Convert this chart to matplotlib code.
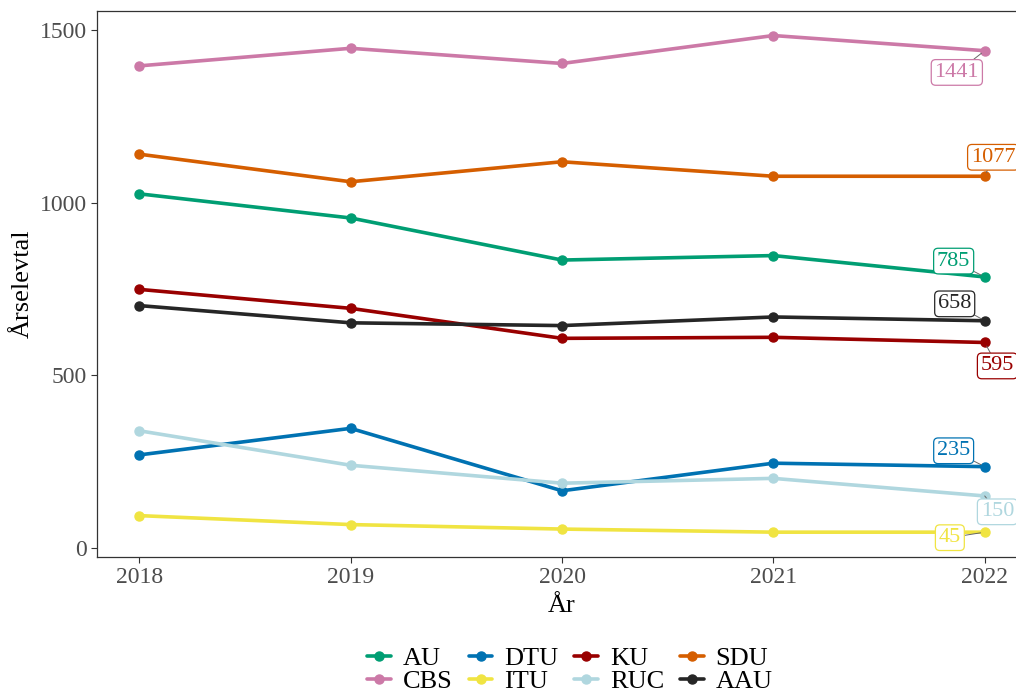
import matplotlib
matplotlib.use("Agg")
import matplotlib.pyplot as plt

years = [2018, 2019, 2020, 2021, 2022]
AU  = [1026, 956, 834, 847, 785]
CBS = [1397, 1448, 1404, 1485, 1441]
DTU = [269, 346, 165, 245, 235]
ITU = [93, 67, 54, 45, 45]
KU  = [749, 694, 607, 610, 595]
RUC = [339, 239, 187, 201, 150]
SDU = [1141, 1061, 1119, 1077, 1077]
AAU = [702, 652, 644, 669, 658]

series = {"AU": AU, "CBS": CBS, "DTU": DTU, "ITU": ITU,
          "KU": KU, "RUC": RUC, "SDU": SDU, "AAU": AAU}
colors = {"AU": "#009E73", "CBS": "#CC79A7", "DTU": "#0072B2", "ITU": "#F0E442",
          "KU": "#990000", "RUC": "#B0D7DF", "SDU": "#D55E00", "AAU": "#262626"}
# label text positions (data coords) for the last-year values
label_pos = {"CBS": (2021.868, 1378), "SDU": (2022.04, 1132), "AU": (2021.853, 831),
             "AAU": (2021.858, 707), "KU": (2022.06, 527), "DTU": (2021.853, 281),
             "RUC": (2022.06, 104), "ITU": (2021.835, 29)}

plt.rcParams['font.family'] = ['Liberation Serif', 'DejaVu Serif']

fig = plt.figure(figsize=(10.16, 6.93), dpi=100)
ax = fig.add_axes([97/1016, 1-557/693, (1027-97)/1016, (557-10.7)/693])

draw_order = ["AU", "CBS", "DTU", "ITU", "KU", "RUC", "SDU", "AAU"]
handles = {}
for name in draw_order:
    vals = series[name]
    h, = ax.plot(years, vals, color=colors[name], lw=2.6, marker='o', ms=6.5,
                 solid_capstyle='round', label=name, clip_on=False)
    handles[name] = h

for name in draw_order:
    v = series[name][-1]
    tx, ty = label_pos[name]
    ax.annotate(str(v), xy=(years[-1], v), xytext=(tx, ty), textcoords='data',
                ha='center', va='center', fontsize=16, color=colors[name],
                bbox=dict(boxstyle='round,pad=0.15,rounding_size=0.2', fc='white',
                          ec=colors[name], lw=0.9),
                arrowprops=dict(arrowstyle='-', color='#666666', lw=0.7,
                                shrinkA=0, shrinkB=3),
                annotation_clip=False, zorder=5)

ax.set_xlim(2017.8, 2022.2)
ax.set_ylim(-27, 1557)
ax.set_xticks(years)
ax.set_yticks([0, 500, 1000, 1500])
ax.tick_params(axis='both', labelsize=17, labelcolor='#4D4D4D', color='#333333',
               length=4, width=0.8)
for s in ax.spines.values():
    s.set_color('#333333')
    s.set_linewidth(0.9)
ax.set_xlabel('År', fontsize=19, color='black', labelpad=5)
ax.set_ylabel('Årselevtal', fontsize=19, color='black', labelpad=4)

leg_order = ["AU", "CBS", "DTU", "ITU", "KU", "RUC", "SDU", "AAU"]
fig.legend([handles[n] for n in leg_order], leg_order, loc='center',
           bbox_to_anchor=(570/1016, 1-670/693), ncol=4, frameon=False,
           fontsize=19, handlelength=0.9, handletextpad=0.45, columnspacing=0.6,
           labelspacing=0.0, borderpad=0.2)

fig.savefig('out.png', dpi=100)
